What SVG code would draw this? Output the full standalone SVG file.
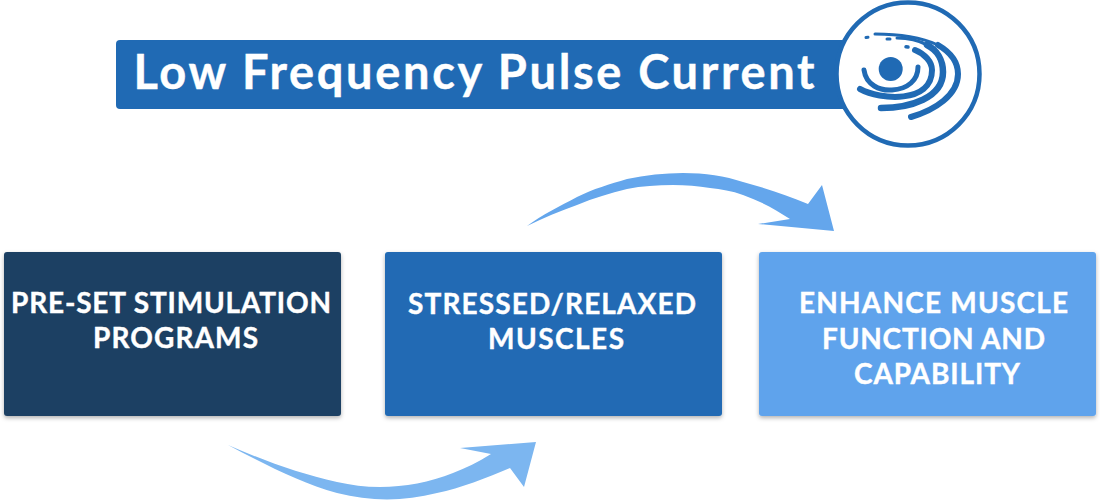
<svg xmlns="http://www.w3.org/2000/svg" width="1100" height="500" viewBox="0 0 1100 500">
<defs>
<filter id="sh" x="-5%" y="-5%" width="110%" height="112%"><feDropShadow dx="0" dy="2" stdDeviation="2" flood-color="#000" flood-opacity="0.3"/></filter>
</defs>
<style>
.t{font-family:"Lato","Open Sans","Liberation Sans",sans-serif;font-weight:700;fill:#fff;stroke:#fff;stroke-width:0.4px;text-anchor:middle}
.b{font-size:28px}
.lg{fill:none;stroke:#206ab4;stroke-linecap:round}
</style>
<rect width="1100" height="500" fill="#fff"/>
<g id="title">
<rect x="116" y="40" width="760" height="69" rx="4" fill="#206ab4"/>
<text class="t" x="474" y="89" font-size="47" textLength="681" lengthAdjust="spacing">Low Frequency Pulse Current</text>
</g>
<g id="logo">
<circle cx="908" cy="74" r="71.500" fill="#fff" stroke="#206ab4" stroke-width="4.500"/>
<circle cx="890.700" cy="69" r="12" fill="#206ab4"/>
<path class="lg" stroke-width="5" d="M864 70C866 85 880 91 892 90C908 89 918 80 918 67"/>
<path class="lg" stroke-width="6" d="M860 89C880 100 932 104 932 70C932 62 925 54 915 50"/>
<path class="lg" stroke-width="6.500" d="M881 108C910 108 943 98 943 72C943 60 937 50 927 45"/>
<path class="lg" stroke-width="3" d="M927 45C918 40 908 38 897 38"/>
<path class="lg" stroke-width="6" d="M911 117C935 110 958 95 958 74C958 62 950 52 938 45"/>
<path class="lg" stroke-width="3" d="M938 45C920 37 898 34 875 34"/>
<path class="lg" stroke-width="3" d="M866 37.500L868 37.200M887 39L890 39"/>
<path class="lg" stroke-width="3.500" d="M906 46.800L908 47"/>
</g>
<g id="connectors">
<path d="M527 226C542 215 560 206 577 197C593 189 610 184 627 179C645 175 665 173 683 173C705 173 725 176 743 182C765 188 787 195 808 204L822 185L834 231L758 224L790 219C775 209 760 201 743 195C732 191 721 189 710 188C698 186 686 185 673 185C657 185 642 186 627 189C610 193 594 198 577 205C560 211 543 218 527 226Z" fill="#64a6ec"/>
<path d="M228 445C266 465 301 483 337 493C354 497 370 499.500 387 499.500C404 499.500 420 497 437 493C461 488 486 478 510 468L524 487L536 442L460 448L491 454C478 462 466 468 453 473C430 482 405 487 380 487C365 487 351 485 337 482C300 474 265 461 228 445Z" fill="#7cb6f0"/>
</g>
<g id="node1">
<rect x="4" y="252" width="337" height="164" rx="3" fill="#1e4164" filter="url(#sh)"/>
<text class="t b" x="171" y="313" textLength="320" lengthAdjust="spacing">PRE-SET STIMULATION</text>
<text class="t b" x="175.500" y="348" textLength="165" lengthAdjust="spacing">PROGRAMS</text>
</g>
<g id="node2">
<rect x="385" y="252" width="337" height="164" rx="3" fill="#206ab4" filter="url(#sh)"/>
<text class="t b" x="552" y="314" textLength="288" lengthAdjust="spacing">STRESSED/RELAXED</text>
<text class="t b" x="556" y="349" textLength="136" lengthAdjust="spacing">MUSCLES</text>
</g>
<g id="node3">
<rect x="759" y="252" width="337" height="164" rx="3" fill="#5ea3ec" filter="url(#sh)"/>
<text class="t b" x="933.500" y="313" textLength="269" lengthAdjust="spacing">ENHANCE MUSCLE</text>
<text class="t b" x="933.500" y="349" textLength="223" lengthAdjust="spacing">FUNCTION AND</text>
<text class="t b" x="937" y="384" textLength="166" lengthAdjust="spacing">CAPABILITY</text>
</g>
</svg>
